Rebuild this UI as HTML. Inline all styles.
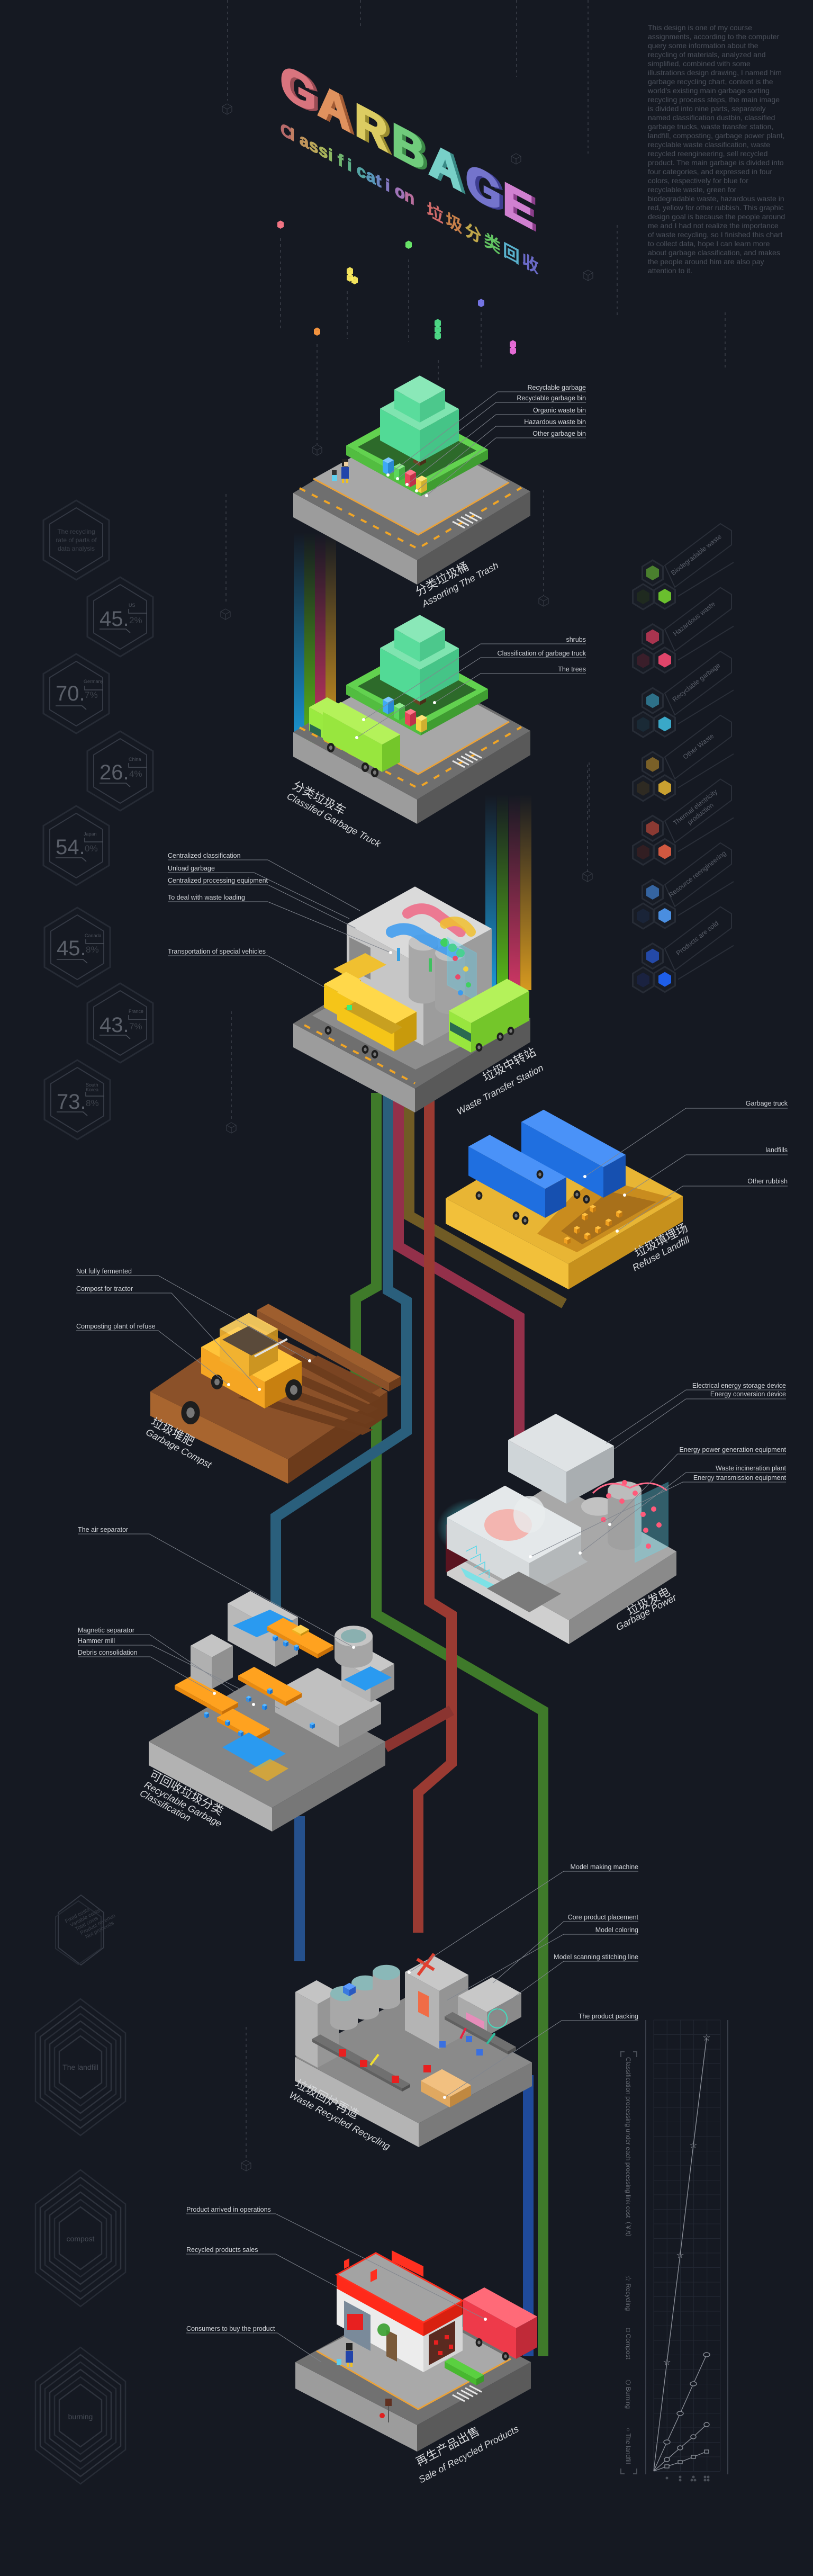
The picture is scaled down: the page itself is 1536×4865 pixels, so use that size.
<!DOCTYPE html>
<html><head><meta charset="utf-8">
<style>
html,body{margin:0;padding:0;background:#151922;}
svg{display:block}
text{font-family:"Liberation Sans","Noto Sans CJK SC",sans-serif}
.cl{font-size:12.5px;fill:#d2d5da}
.ld{fill:none;stroke:#80858e;stroke-width:1}
.sc1{font-size:22px;fill:#d8dadd;font-family:"Liberation Sans","Noto Sans CJK SC",sans-serif}
.sc2{font-size:18px;fill:#d8dadd;font-style:italic}
.dl{stroke:#3c414b;stroke-width:1.5;stroke-dasharray:5 6}
.para{font-size:14px;fill:#4b505b}
.num{font-size:40px;fill:#5a5f69}
.cty{font-size:9px;fill:#4a4f59}
.pct{font-size:17px;fill:#3c414a}
.lg{font-size:12.5px;fill:#5a5f6a}
</style></head>
<body>
<svg id="s" width="1536" height="4865" viewBox="0 0 1536 4865" xmlns="http://www.w3.org/2000/svg">
<defs>
<linearGradient id="gb" x1="0" y1="0" x2="0" y2="1"><stop offset="0" stop-color="#1a9ee0" stop-opacity="0"/><stop offset="1" stop-color="#1a9ee0" stop-opacity="0.95"/></linearGradient>
<linearGradient id="gg" x1="0" y1="0" x2="0" y2="1"><stop offset="0" stop-color="#5cc018" stop-opacity="0"/><stop offset="1" stop-color="#5cc018" stop-opacity="0.95"/></linearGradient>
<linearGradient id="gr" x1="0" y1="0" x2="0" y2="1"><stop offset="0" stop-color="#d83868" stop-opacity="0"/><stop offset="1" stop-color="#d83868" stop-opacity="0.95"/></linearGradient>
<linearGradient id="go" x1="0" y1="0" x2="0" y2="1"><stop offset="0" stop-color="#e0a020" stop-opacity="0"/><stop offset="1" stop-color="#e0a020" stop-opacity="0.95"/></linearGradient>
<radialGradient id="glow"><stop offset="0" stop-color="#4ff4ff" stop-opacity="0.9"/><stop offset="1" stop-color="#4ff4ff" stop-opacity="0"/></radialGradient>
</defs>
<rect width="1536" height="4865" fill="#151922"/>

<g>
<line class="dl" x1="430" y1="0" x2="430" y2="190"/>
<line class="dl" x1="681" y1="0" x2="681" y2="55"/>
<line class="dl" x1="976" y1="0" x2="976" y2="145"/>
<line class="dl" x1="1111" y1="0" x2="1111" y2="290"/>
<line class="dl" x1="530" y1="450" x2="530" y2="620"/>
<line class="dl" x1="656" y1="550" x2="656" y2="640"/>
<line class="dl" x1="772" y1="490" x2="772" y2="645"/>
<line class="dl" x1="909" y1="590" x2="909" y2="700"/>
<line class="dl" x1="1166" y1="425" x2="1166" y2="600"/>
<line class="dl" x1="1370" y1="590" x2="1370" y2="700"/>
<line class="dl" x1="599" y1="650" x2="599" y2="840"/>
<line class="dl" x1="828" y1="680" x2="828" y2="720"/>
<line class="dl" x1="1027" y1="925" x2="1027" y2="1126"/>
<line class="dl" x1="1113" y1="1440" x2="1113" y2="1550"/>
<line class="dl" x1="427" y1="933" x2="427" y2="1140"/>
<line class="dl" x1="437" y1="1910" x2="437" y2="2115"/>
<line class="dl" x1="1110" y1="1444" x2="1110" y2="1647"/>
<line class="dl" x1="465" y1="3828" x2="465" y2="4077"/>
<line class="dl" x1="1110" y1="2160" x2="1110" y2="2220"/>
</g>

<g>
<rect x="555" y="1005" width="20" height="405" fill="url(#gb)"/>
<rect x="575" y="1005" width="20" height="405" fill="url(#gg)"/>
<rect x="595" y="1005" width="20" height="405" fill="url(#gr)"/>
<rect x="615" y="1005" width="20" height="405" fill="url(#go)"/>
<rect x="917" y="1500" width="21" height="370" fill="url(#gb)"/>
<rect x="939" y="1500" width="21" height="370" fill="url(#gg)"/>
<rect x="961" y="1500" width="21" height="370" fill="url(#gr)"/>
<rect x="983" y="1500" width="21" height="370" fill="url(#go)"/>
</g>

<g fill="none" stroke-width="20" stroke-linejoin="miter">
<path d="M773,2064 V2296 L1066,2462" stroke="#7a6326" opacity="0.9"/>
<path d="M711,2064 V2430 L672,2452 V2600 L711,2625 V3049 L1026,3231 V4450" stroke="#3f7a2a"/>
<path d="M733,2064 V2437 L768,2457 V2703 L521,2865 V3050" stroke="#2a5f7c"/>
<path d="M566,3430 V3704" stroke="#25508c"/>
<path d="M998,3919 V4450" stroke="#1f4a9a"/>
<path d="M753,2064 V2354 L981,2487 V2740" stroke="#93304a"/>
<path d="M811,2064 V3024 L853,3050 V3330 L790,3385 V3650" stroke="#9a3a32"/>
<path d="M853,3230 L728,3300" stroke="#8a3430"/>
</g>

<g id="shapes"></g>

<g transform="translate(530,179) skewY(28)" font-family="DejaVu Sans Mono, Liberation Mono, monospace" font-weight="bold" font-size="86" stroke-width="4" stroke-linejoin="miter">
<text x="7" y="0" fill="#9a4c55" stroke="#9a4c55">G</text><text x="0" y="0" fill="#d9747e" stroke="#d9747e">G</text>
<text x="77" y="0" fill="#a05a34" stroke="#a05a34">A</text><text x="70" y="0" fill="#e0925e" stroke="#e0925e">A</text>
<text x="147" y="0" fill="#9a8c30" stroke="#9a8c30">R</text><text x="140" y="0" fill="#dccc62" stroke="#dccc62">R</text>
<text x="217" y="0" fill="#3c8a48" stroke="#3c8a48">B</text><text x="210" y="0" fill="#70cc7c" stroke="#70cc7c">B</text>
<text x="287" y="0" fill="#3a8a86" stroke="#3a8a86">A</text><text x="280" y="0" fill="#78d0c8" stroke="#78d0c8">A</text>
<text x="357" y="0" fill="#3e3e92" stroke="#3e3e92">G</text><text x="350" y="0" fill="#7474cc" stroke="#7474cc">G</text>
<text x="427" y="0" fill="#8a3e8a" stroke="#8a3e8a">E</text><text x="420" y="0" fill="#d080d0" stroke="#d080d0">E</text>
</g>
<g transform="translate(530,253) skewY(28)" font-family="DejaVu Sans Mono, Liberation Mono, monospace" font-weight="bold" font-size="31" stroke-width="1.5">
<text x="0" y="0" fill="#b86a6a" stroke="#b86a6a">C</text><text x="18" y="0" fill="#c07e62" stroke="#c07e62">l</text><text x="36" y="0" fill="#c0945a" stroke="#c0945a">a</text><text x="54" y="0" fill="#bca85a" stroke="#bca85a">s</text><text x="72" y="0" fill="#a8b45a" stroke="#a8b45a">s</text><text x="90" y="0" fill="#8cb862" stroke="#8cb862">i</text><text x="108" y="0" fill="#70b46e" stroke="#70b46e">f</text><text x="126" y="0" fill="#5cae86" stroke="#5cae86">i</text><text x="144" y="0" fill="#54a4a4" stroke="#54a4a4">c</text><text x="162" y="0" fill="#5896b8" stroke="#5896b8">a</text><text x="180" y="0" fill="#6a84c0" stroke="#6a84c0">t</text><text x="198" y="0" fill="#8478c0" stroke="#8478c0">i</text><text x="216" y="0" fill="#a074b8" stroke="#a074b8">o</text><text x="234" y="0" fill="#b86e9e" stroke="#b86e9e">n</text>
</g>
<g transform="translate(806,405) skewY(28)" font-size="32" font-weight="bold" font-family="Noto Sans CJK SC, sans-serif">
<text x="0" y="0" fill="#d06a6a">垃</text><text x="36" y="0" fill="#c8804a">圾</text><text x="72" y="0" fill="#c0a84a">分</text><text x="108" y="0" fill="#62c462">类</text><text x="144" y="0" fill="#58b0cc">回</text><text x="180" y="0" fill="#6a6ac8">收</text>
</g>

<text class="para" x="1224" y="57">
<tspan x="1224" dy="0">This design is one of my course</tspan>
<tspan x="1224" dy="17">assignments, according to the computer</tspan>
<tspan x="1224" dy="17">query some information about the</tspan>
<tspan x="1224" dy="17">recycling of materials, analyzed and</tspan>
<tspan x="1224" dy="17">simplified, combined with some</tspan>
<tspan x="1224" dy="17">illustrations design drawing, I named him</tspan>
<tspan x="1224" dy="17">garbage recycling chart, content is the</tspan>
<tspan x="1224" dy="17">world's existing main garbage sorting</tspan>
<tspan x="1224" dy="17">recycling process steps, the main image</tspan>
<tspan x="1224" dy="17">is divided into nine parts, separately</tspan>
<tspan x="1224" dy="17">named classification dustbin, classified</tspan>
<tspan x="1224" dy="17">garbage trucks, waste transfer station,</tspan>
<tspan x="1224" dy="17">landfill, composting, garbage power plant,</tspan>
<tspan x="1224" dy="17">recyclable waste classification, waste</tspan>
<tspan x="1224" dy="17">recycled reengineering, sell recycled</tspan>
<tspan x="1224" dy="17">product. The main garbage is divided into</tspan>
<tspan x="1224" dy="17">four categories, and expressed in four</tspan>
<tspan x="1224" dy="17">colors, respectively for blue for</tspan>
<tspan x="1224" dy="17">recyclable waste, green for</tspan>
<tspan x="1224" dy="17">biodegradable waste, hazardous waste in</tspan>
<tspan x="1224" dy="17">red, yellow for other rubbish. This graphic</tspan>
<tspan x="1224" dy="17">design goal is because the people around</tspan>
<tspan x="1224" dy="17">me and I had not realize the importance</tspan>
<tspan x="1224" dy="17">of waste recycling, so I finished this chart</tspan>
<tspan x="1224" dy="17">to collect data, hope I can learn more</tspan>
<tspan x="1224" dy="17">about garbage classification, and makes</tspan>
<tspan x="1224" dy="17">the people around him are also pay</tspan>
<tspan x="1224" dy="17">attention to it.</tspan>
</text>

<g text-anchor="middle" font-size="12" fill="#3c414b">
<text x="144" y="1008">The recycling</text><text x="144" y="1024">rate of parts of</text><text x="144" y="1040">data analysis</text>
</g>
<g>
<text class="num" x="188" y="1182">45.</text><text class="cty" x="243" y="1146" font-size="13">US</text><text class="pct" x="244" y="1177">2%</text>
<text class="num" x="105" y="1323">70.</text><text class="cty" x="158" y="1290">Germany</text><text class="pct" x="160" y="1318">7%</text>
<text class="num" x="188" y="1472">26.</text><text class="cty" x="243" y="1437">China</text><text class="pct" x="244" y="1467">4%</text>
<text class="num" x="105" y="1613">54.</text><text class="cty" x="158" y="1578">Japan</text><text class="pct" x="160" y="1608">0%</text>
<text class="num" x="107" y="1804">45.</text><text class="cty" x="160" y="1770">Canada</text><text class="pct" x="162" y="1799">8%</text>
<text class="num" x="188" y="1949">43.</text><text class="cty" x="243" y="1913">France</text><text class="pct" x="244" y="1944">7%</text>
<text class="num" x="107" y="2094">73.</text><text class="cty" x="162" y="2052">South</text><text class="cty" x="162" y="2061">Korea</text><text class="pct" x="162" y="2089">8%</text>
</g>

<g font-size="10" fill="#3c414b" transform="translate(125,3632) rotate(-28)">
<text x="0" y="0">Fixed costs</text><text x="5" y="11">Variable costs</text><text x="10" y="22">Total costs</text><text x="15" y="33">Product revenue</text><text x="20" y="44">Net proceeds</text>
</g>
<g text-anchor="middle" font-size="14" fill="#474c56">
<text x="152" y="3909">The landfill</text>
<text x="152" y="4233">compost</text>
<text x="152" y="4569">burning</text>
</g>

<g class="lg" text-anchor="middle">
<text transform="translate(1318,1051) rotate(-38)">Biodegradable waste</text>
<text transform="translate(1314,1172) rotate(-38)">Hazardous waste</text>
<text transform="translate(1318,1292) rotate(-38)">Recyclable garbage</text>
<text transform="translate(1322,1413) rotate(-38)">Other Waste</text>
<text transform="translate(1316,1528) rotate(-38)">Thermal electricity</text>
<text transform="translate(1326,1540) rotate(-38)">production</text>
<text transform="translate(1320,1654) rotate(-38)">Resource reengineering</text>
<text transform="translate(1320,1775) rotate(-38)">Products are sold</text>
</g>

<g>
<g stroke="#222733" stroke-width="1" id="grid"></g>
<line x1="1220" y1="3815" x2="1220" y2="4673" stroke="#3a3f4a" stroke-width="2"/>
<line x1="1375" y1="3815" x2="1375" y2="4673" stroke="#3a3f4a" stroke-width="2"/>
<g fill="none" stroke="#8a8f98" stroke-width="1.4">
<polyline points="1235,4667 1260,4461 1285,4259 1310,4051 1335,3848"/>
<polyline points="1235,4667 1260,4612 1285,4558 1310,4502 1335,4447"/>
<polyline points="1235,4667 1260,4645 1285,4623 1310,4602 1335,4579"/>
<polyline points="1235,4667 1260,4658 1285,4650 1310,4640 1335,4630"/>
<ellipse cx="1260" cy="4612" rx="6" ry="4" fill="#151922"/><ellipse cx="1285" cy="4558" rx="6" ry="4" fill="#151922"/><ellipse cx="1310" cy="4502" rx="6" ry="4" fill="#151922"/><ellipse cx="1335" cy="4447" rx="6" ry="4" fill="#151922"/>
<ellipse cx="1260" cy="4645" rx="5" ry="4" fill="#151922"/><ellipse cx="1285" cy="4623" rx="5" ry="4" fill="#151922"/><ellipse cx="1310" cy="4602" rx="5" ry="4" fill="#151922"/><ellipse cx="1335" cy="4579" rx="5" ry="4" fill="#151922"/>
<rect x="1256" y="4655" width="8" height="6" fill="#151922"/><rect x="1281" y="4647" width="8" height="6" fill="#151922"/><rect x="1306" y="4637" width="8" height="6" fill="#151922"/><rect x="1331" y="4627" width="8" height="6" fill="#151922"/>
<path d="M1173,3885 V3875 H1180 M1203,3885 V3875 H1196 M1173,4662 V4672 H1180 M1203,4662 V4672 H1196" stroke="#4a4f58" stroke-width="2"/>
</g>
<g font-size="14" fill="#8a8f98" text-anchor="middle">
<text x="1260" y="4466">☆</text><text x="1285" y="4264">☆</text><text x="1310" y="4056">☆</text><text x="1335" y="3853">☆</text>
</g>
<g fill="#4a4f58"><circle cx="1260" cy="4680" r="2.5"/><circle cx="1285" cy="4678" r="2.5"/><circle cx="1285" cy="4684" r="2.5"/><circle cx="1310" cy="4678" r="2.5"/><circle cx="1307" cy="4684" r="2.5"/><circle cx="1313" cy="4684" r="2.5"/><circle cx="1332" cy="4678" r="2.5"/><circle cx="1338" cy="4678" r="2.5"/><circle cx="1332" cy="4684" r="2.5"/><circle cx="1338" cy="4684" r="2.5"/></g>
<g font-size="12" fill="#6a6f78">
<text transform="translate(1183,3885) rotate(90)">Classification processing under each processing link cost（￥/t）</text>
<text transform="translate(1183,4297) rotate(90)">☆ Recycling</text>
<text transform="translate(1183,4397) rotate(90)">□ Compost</text>
<text transform="translate(1183,4494) rotate(90)">⬡ Burning</text>
<text transform="translate(1183,4585) rotate(90)">○ The landfill</text>
</g>
</g>

<g>
<g transform="translate(790,1126) rotate(-28)"><text class="sc1">分类垃圾桶</text><text class="sc2" y="24">Assorting The Trash</text></g>
<g transform="translate(551,1488) rotate(28)"><text class="sc1">分类垃圾车</text><text class="sc2" y="22">Classifed Garbage Truck</text></g>
<g transform="translate(917,2043) rotate(-28)"><text class="sc1">垃圾中转站</text></g>
<g transform="translate(867,2106) rotate(-28)"><text class="sc2">Waste Transfer Station</text></g>
<g transform="translate(1204,2375) rotate(-28)"><text class="sc1">垃圾填埋场</text></g>
<g transform="translate(1199,2401) rotate(-28)"><text class="sc2">Refuse Landfill</text></g>
<g transform="translate(284,2690) rotate(28)"><text class="sc1">垃圾堆肥</text><text class="sc2" y="21">Garbage Compst</text></g>
<g transform="translate(1190,3052) rotate(-28)"><text class="sc1">垃圾发电</text></g>
<g transform="translate(1168,3080) rotate(-28)"><text class="sc2">Garbage Power</text></g>
<g transform="translate(281,3356) rotate(28)"><text class="sc1">可回收垃圾分类</text><text class="sc2" y="21">Recyclable Garbage</text><text class="sc2" y="39">Classification</text></g>
<g transform="translate(556,3940) rotate(28)"><text class="sc1">垃圾回炉再造</text><text class="sc2" y="23">Waste Recycled Recycling</text></g>
<g transform="translate(791,4658) rotate(-28)"><text class="sc1">再生产品出售</text></g>
<g transform="translate(795,4690) rotate(-28)"><text class="sc2">Sale of Recycled Products</text></g>
</g>

<g>
<text class="cl" x="1107" y="736" text-anchor="end">Recyclable garbage</text><polyline class="ld" points="1107,740 940,740 733,897"/><circle cx="733" cy="897" r="3" fill="#fff"/>
<text class="cl" x="1107" y="756" text-anchor="end">Recyclable garbage bin</text><polyline class="ld" points="1107,760 937,760 751,904"/><circle cx="751" cy="904" r="3" fill="#fff"/>
<text class="cl" x="1107" y="779" text-anchor="end">Organic waste bin</text><polyline class="ld" points="1107,783 937,783 769,915"/><circle cx="769" cy="915" r="3" fill="#fff"/>
<text class="cl" x="1107" y="801" text-anchor="end">Hazardous waste bin</text><polyline class="ld" points="1107,805 937,805 787,927"/><circle cx="787" cy="927" r="3" fill="#fff"/>
<text class="cl" x="1107" y="823" text-anchor="end">Other garbage bin</text><polyline class="ld" points="1107,827 937,827 806,936"/><circle cx="806" cy="936" r="3" fill="#fff"/>

<text class="cl" x="1107" y="1212" text-anchor="end">shrubs</text><polyline class="ld" points="1107,1216 908,1216 687,1359"/><circle cx="687" cy="1359" r="3" fill="#fff"/>
<text class="cl" x="1107" y="1238" text-anchor="end">Classification of garbage truck</text><polyline class="ld" points="1107,1242 908,1242 674,1393"/><circle cx="674" cy="1393" r="3" fill="#fff"/>
<text class="cl" x="1107" y="1268" text-anchor="end">The trees</text><polyline class="ld" points="1107,1272 908,1272 821,1327"/><circle cx="821" cy="1327" r="3" fill="#fff"/>

<text class="cl" x="317" y="1620">Centralized classification</text><polyline class="ld" points="317,1624 506,1624 680,1720"/>
<text class="cl" x="317" y="1644">Unload garbage</text><polyline class="ld" points="317,1648 480,1648 660,1735"/>
<text class="cl" x="317" y="1667">Centralized processing equipment</text><polyline class="ld" points="317,1671 506,1671 672,1753"/>
<text class="cl" x="317" y="1699">To deal with waste loading</text><polyline class="ld" points="317,1703 506,1703 738,1799"/><circle cx="738" cy="1799" r="3" fill="#fff"/>
<text class="cl" x="317" y="1801">Transportation of special vehicles</text><polyline class="ld" points="317,1805 506,1805 614,1865"/>

<text class="cl" x="1488" y="2088" text-anchor="end">Garbage truck</text><polyline class="ld" points="1488,2093 1296,2093 1105,2222"/><circle cx="1105" cy="2222" r="3" fill="#fff"/>
<text class="cl" x="1488" y="2176" text-anchor="end">landfills</text><polyline class="ld" points="1488,2181 1296,2181 1180,2257"/><circle cx="1180" cy="2257" r="3" fill="#fff"/>
<text class="cl" x="1488" y="2235" text-anchor="end">Other rubbish</text><polyline class="ld" points="1488,2240 1290,2240 1166,2325"/><circle cx="1166" cy="2325" r="3" fill="#fff"/>

<text class="cl" x="144" y="2405">Not fully fermented</text><polyline class="ld" points="144,2409 299,2409 585,2570"/><circle cx="585" cy="2570" r="3" fill="#fff"/>
<text class="cl" x="144" y="2438">Compost for tractor</text><polyline class="ld" points="144,2442 324,2442 490,2624"/><circle cx="490" cy="2624" r="3" fill="#fff"/>
<text class="cl" x="144" y="2509">Composting plant of refuse</text><polyline class="ld" points="144,2513 299,2513 432,2615"/><circle cx="432" cy="2615" r="3" fill="#fff"/>

<text class="cl" x="1485" y="2621" text-anchor="end">Electrical energy storage device</text><polyline class="ld" points="1485,2625 1296,2625 1145,2726"/>
<text class="cl" x="1485" y="2637" text-anchor="end">Energy conversion device</text><polyline class="ld" points="1485,2642 1296,2642 1161,2736"/>
<text class="cl" x="1485" y="2742" text-anchor="end">Energy power generation equipment</text><polyline class="ld" points="1485,2746 1280,2746 1152,2879"/><circle cx="1152" cy="2879" r="3" fill="#fff"/>
<text class="cl" x="1485" y="2777" text-anchor="end">Waste incineration plant</text><polyline class="ld" points="1485,2781 1296,2781 1096,2933"/><circle cx="1096" cy="2933" r="3" fill="#fff"/>
<text class="cl" x="1485" y="2795" text-anchor="end">Energy transmission equipment</text><polyline class="ld" points="1485,2799 1290,2799 1002,2940"/><circle cx="1002" cy="2940" r="3" fill="#fff"/>

<text class="cl" x="147" y="2893">The air separator</text><polyline class="ld" points="147,2897 282,2897 668,3111"/><circle cx="668" cy="3111" r="3" fill="#fff"/>
<text class="cl" x="147" y="3083">Magnetic separator</text><polyline class="ld" points="147,3087 282,3087 479,3219"/><circle cx="479" cy="3219" r="3" fill="#fff"/>
<text class="cl" x="147" y="3103">Hammer mill</text><polyline class="ld" points="147,3107 286,3107 528,3227"/>
<text class="cl" x="147" y="3125">Debris consolidation</text><polyline class="ld" points="147,3129 284,3129 405,3198"/><circle cx="405" cy="3198" r="3" fill="#fff"/>

<text class="cl" x="1206" y="3530" text-anchor="end">Model making machine</text><polyline class="ld" points="1206,3534 1065,3534 773,3725"/><circle cx="773" cy="3725" r="3" fill="#fff"/>
<text class="cl" x="1206" y="3625" text-anchor="end">Core product placement</text><polyline class="ld" points="1206,3629 1065,3629 931,3745"/>
<text class="cl" x="1206" y="3649" text-anchor="end">Model coloring</text><polyline class="ld" points="1206,3653 1065,3653 844,3778"/>
<text class="cl" x="1206" y="3700" text-anchor="end">Model scanning stitching line</text><polyline class="ld" points="1206,3704 1065,3704 928,3803"/>
<text class="cl" x="1206" y="3812" text-anchor="end">The product packing</text><polyline class="ld" points="1206,3816 1061,3816 840,3961"/><circle cx="840" cy="3961" r="3" fill="#fff"/>

<text class="cl" x="352" y="4177">Product arrived in operations</text><polyline class="ld" points="352,4181 521,4181 917,4380"/><circle cx="917" cy="4380" r="3" fill="#fff"/>
<text class="cl" x="352" y="4253">Recycled products sales</text><polyline class="ld" points="352,4257 521,4257 639,4320"/>
<text class="cl" x="352" y="4402">Consumers to buy the product</text><polyline class="ld" points="352,4406 524,4406 607,4461"/>
</g>
</svg>
<script>
(function(){
var NS='http://www.w3.org/2000/svg',svg=document.getElementById('s'),G=document.getElementById('shapes');
var target=G;
function el(t,a,par){var e=document.createElementNS(NS,t);for(var k in a)e.setAttribute(k,a[k]);(par||target).appendChild(e);return e;}
function pts(a){return a.map(function(p){return p[0].toFixed(1)+','+p[1].toFixed(1)}).join(' ');}
function P(a,f,ex){var o={points:pts(a),fill:f};if(ex)for(var k in ex)o[k]=ex[k];return el('polygon',o);}
function plat(T,R,B,L,h,ct,cl,cr){P([L,B,[B[0],B[1]+h],[L[0],L[1]+h]],cl);P([B,R,[R[0],R[1]+h],[B[0],B[1]+h]],cr);P([T,R,B,L],ct);}
function bx(fx,fy,U,V,H,ct,cl,cr,ex){var k=.55,p2=[fx,fy],p3=[fx-U,fy-k*U],p1=[fx+V,fy-k*V],p0=[fx-U+V,fy-k*(U+V)];function u(p){return[p[0],p[1]-H]}
P([u(p3),u(p2),p2,p3],cl,ex);P([u(p2),u(p1),p1,p2],cr,ex);P([u(p0),u(p1),u(p2),u(p3)],ct,ex);}
function cyl(cx,by,rx,H,c1,ct){var ry=rx*.55;el('path',{d:'M'+(cx-rx)+','+(by-H)+' L'+(cx-rx)+','+by+' A'+rx+','+ry+' 0 0 0 '+(cx+rx)+','+by+' L'+(cx+rx)+','+(by-H)+' Z',fill:c1});el('ellipse',{cx:cx,cy:by-H,rx:rx,ry:ry,fill:ct});}
function ln(x1,y1,x2,y2,c,w,ex){var o={x1:x1,y1:y1,x2:x2,y2:y2,stroke:c,'stroke-width':w||1};if(ex)for(var k in ex)o[k]=ex[k];el('line',o);}
function wh(x,y,r){el('ellipse',{cx:x,cy:y,rx:r*.8,ry:r,fill:'#1e1e1e'});el('ellipse',{cx:x,cy:y,rx:r*.35,ry:r*.45,fill:'#777'});}
function hex(cx,cy,hw,hh,f,s,sw){return P([[cx,cy-hh],[cx+hw,cy-hh/2],[cx+hw,cy+hh/2],[cx,cy+hh],[cx-hw,cy+hh/2],[cx-hw,cy-hh/2]],f,s?{stroke:s,'stroke-width':sw||1.5}:null);}

var back=document.createElementNS(NS,'g');svg.insertBefore(back,svg.children[2]);target=back;
var hc=[[144,1020],[227,1165],[144,1310],[227,1456],[144,1597],[146,1789],[227,1932],[146,2077]];
hc.forEach(function(c){hex(c[0],c[1],62,75,'none','#262b35',3);hex(c[0],c[1],50,61,'none','#343944',2);});
hc.slice(1).forEach(function(c){var x=c[0]-39,y=c[1]+17;
el('polyline',{points:(x)+','+(y+6)+' '+(x+50)+','+(y+6)+' '+(x+58)+','+(y+13),fill:'none',stroke:'#4a4f59','stroke-width':1.5});
el('polyline',{points:(x+55)+','+(y-32)+' '+(x+55)+','+(y-24)+' '+(x+90)+','+(y-24),fill:'none',stroke:'#4a4f59','stroke-width':1.5});});
hex(153,3645,43,66,'none','#343944',2);hex(148,3650,43,60,'none','#262b35',2);
[[152,3904],[152,4227],[152,4562]].forEach(function(c){for(var i=0;i<6;i++){hex(c[0],c[1],85-9*i,129-14*i,'none',i%2?'#2e333d':'#272c36',2.5);}});
[[429,206],[975,300],[1111,520],[426,1160],[1110,1655],[437,2130],[1112,2235],[465,4090],[1027,1135],[599,850]].forEach(function(c){hex(c[0],c[1],9,10,'none','#3a3f49',1);el('polyline',{points:(c[0]-9)+','+(c[1]-5)+' '+c[0]+','+c[1]+' '+(c[0]+9)+','+(c[1]-5),fill:'none',stroke:'#3a3f49','stroke-width':1});ln(c[0],c[1],c[0],c[1]+10,'#3a3f49',1);});
var lc=[['#4a7f2e','#1f2a1f','#6abf2e'],['#a8344f','#3a1e2a','#e0456a'],['#2d7088','#1a2a36','#3aa8c8'],['#7a6028','#2e2a22','#c9a030'],['#8a3a33','#321e22','#d05840'],['#3564a0','#1a2438','#4a8ee0'],['#2449a8','#1a2240','#1e5ee8']];
lc.forEach(function(c,i){var y=1082+120.6*i;
el('polygon',{points:pts([[1256,y-14],[1361,y-93],[1382,y-80],[1382,y-53],[1275,y+27]]),fill:'none',stroke:'#2a2f39','stroke-width':2});
ln(1281,y+44,1386,y-20,'#2a2f39',2);
[[1233,y,0],[1215,y+45,1],[1256,y+44,2]].forEach(function(h){hex(h[0],h[1],19.5,24,'#181c25','#272c36',3);hex(h[0],h[1],12,14,c[h[2]]);});});
var gr=document.getElementById('grid');
for(var x=1235;x<=1362;x+=25.2)el('line',{x1:x,y1:3815,x2:x,y2:4667},gr);
for(var y=3815;y<=4668;y+=27.5)el('line',{x1:1235,y1:y,x2:1361,y2:y},gr);
target=back;
[[530,432,'#ff7a8a'],[772,470,'#6ef06e'],[661,520,'#ffee60'],[661,532,'#ffee60'],[670,537,'#ffee60'],[599,634,'#ff9a40'],[827,618,'#50e08a'],[827,630,'#50e08a'],[827,642,'#50e08a'],[909,580,'#7a7af0'],[969,658,'#f070e0'],[969,670,'#f070e0']].forEach(function(c){bx(c[0],c[1],6,6,9,c[2],c[2],c[2],{opacity:'.95'});});

target=G;
function garden(dy,truck,person){
plat([768,801+dy],[1002,928+dy],[788,1058+dy],[554,931+dy],46,'#6f6f6f','#9c9c9c','#595959');
P([[768,806+dy],[962,911+dy],[790,1010+dy],[592,904+dy]],'#a7a7a7');
el('polyline',{points:pts([[592,904+dy],[790,1010+dy],[962,911+dy]]),fill:'none',stroke:'#e9a23b','stroke-width':3});
el('polyline',{points:pts([[566,922+dy],[789,1036+dy],[985,921+dy]]),fill:'none',stroke:'#f0a526','stroke-width':4,'stroke-dasharray':'12 14'});
for(var i=0;i<5;i++)ln(855+i*8,985+dy-i*4.4,878+i*8,997+dy-i*4.4,'#e6e6e6',3);
bx(795,937+dy,141,127,18,'#62d24f','#52bd40','#3f9d31');
P([[781,787+dy],[900,851+dy],[795,906+dy],[676,844+dy]],'#2d6a2a');
bx(793,880+dy,12,12,25,'#5a3a20','#6b4426','#4a2e18');
bx(793,873+dy,75,74,60,'#7fe4b0','#52da96','#45c487');
bx(793,798+dy,48,48,36,'#8ae8b8','#5adc9c','#4cc88c');
var bc=[['#7cc8ff','#3fa9f5','#2a88d0'],['#8ee88e','#5cd65c','#44b044'],['#ff7a8a','#e8455a','#c0304a'],['#ffe37a','#f5d442','#d0b030']];
for(var j=0;j<4;j++)bx(733+j*21,897+j*11.5+dy,10,11,22,bc[j][0],bc[j][1],bc[j][2]);
if(person){el('rect',{x:645,y:882+dy,width:14,height:22,fill:'#2244aa'});el('rect',{x:646,y:867+dy,width:12,height:14,fill:'#222'});el('rect',{x:650,y:872+dy,width:8,height:8,fill:'#f0d0a0'});el('rect',{x:646,y:904+dy,width:4,height:8,fill:'#f0c020'});el('rect',{x:654,y:904+dy,width:4,height:8,fill:'#f0c020'});
el('rect',{x:627,y:896+dy,width:10,height:12,fill:'#60d0f0'});el('rect',{x:627,y:888+dy,width:9,height:9,fill:'#333'});}
if(truck){bx(612,1395,28,34,44,'#b4f25a','#9aea40','#78c82e');bx(722,1458,112,34,52,'#b4f25a','#98e63e','#74c62a');
P([[585,1367],[606,1378],[606,1392],[585,1381]],'#2a6a50');wh(625,1412,9);wh(690,1449,9);wh(708,1459,9);}
}
garden(0,false,true);garden(452,true,false);

plat([772,1800],[1002,1923],[784,2056],[554,1933],45,'#6f6f6f','#9c9c9c','#595959');
P([[772,1815],[975,1923],[785,2020],[590,1918]],'#8d8d8d');
el('polyline',{points:'575,1936 784,2046',fill:'none',stroke:'#f0a526','stroke-width':4,'stroke-dasharray':'12 14'});
bx(800,1975,145,129,150,'#dadada','#c6c6c6','#9c9c9c');
P([[660,1770],[700,1790],[700,1850],[660,1830]],'#8a8a8a');
P([[690,1860],[770,1905],[770,1935],[690,1890]],'#5a7a86');
cyl(800,1880,28,100,'#a8a8a8','#c4c4c4');cyl(850,1900,28,100,'#a2a2a2','#c0c0c0');
el('rect',{x:810,y:1810,width:6,height:25,fill:'#40c060'});el('rect',{x:750,y:1790,width:6,height:25,fill:'#3aa0e0'});
el('path',{d:'M740,1760 Q770,1745 800,1770 L860,1800',stroke:'#3a9af0','stroke-width':22,fill:'none','stroke-linecap':'round',opacity:.85});
el('path',{d:'M770,1725 Q800,1705 830,1730 L870,1760',stroke:'#f06080','stroke-width':20,fill:'none','stroke-linecap':'round',opacity:.8});
el('path',{d:'M840,1745 Q870,1730 890,1760',stroke:'#f0c030','stroke-width':18,fill:'none','stroke-linecap':'round',opacity:.85});
[[840,1780],[855,1790],[870,1800]].forEach(function(c){el('circle',{cx:c[0],cy:c[1],r:8,fill:'#40d060'});});
P([[845,1770],[900,1800],[900,1890],[845,1860]],'#5ad0f0',{opacity:.35,stroke:'#5ae0ff','stroke-width':1.5});
[[860,1810,'#e84a6a'],[880,1830,'#f0d040'],[865,1845,'#e84a6a'],[885,1860,'#40d060'],[870,1875,'#3a9af0']].forEach(function(c){el('circle',{cx:c[0],cy:c[1],r:5,fill:c[2]});});
P([[630,1830],[690,1800],[730,1822],[670,1852]],'#f0c030');
bx(640,1918,28,42,44,'#ffd84a','#f5c518','#c89a0c');
bx(745,1986,108,42,52,'#ffd84a','#f5c518','#c89a0c');
P([[650,1905],[740,1953],[760,1940],[670,1892]],'#c8a020');
el('rect',{x:655,y:1898,width:10,height:10,fill:'#3af07a'});
wh(620,1946,8);wh(690,1982,8);wh(708,1991,8);
bx(890,1988,42,110,56,'#b4f25a','#98e63e','#74c62a');
P([[850,1930],[890,1952],[890,1968],[850,1946]],'#2a6a50');
wh(905,1978,8);wh(945,1958,8);wh(965,1947,8);

plat([1058,2135],[1290,2259],[1074,2387],[842,2263],48,'#e8b534','#f2c03a','#c6901c');
P([[1130,2225],[1270,2262],[1090,2365],[1015,2330],[1080,2260]],'#c98c1e');
P([[1150,2250],[1240,2270],[1100,2350],[1060,2325]],'#a8701a');
[[1090,2330],[1110,2342],[1130,2330],[1150,2316],[1072,2350],[1105,2305],[1170,2300],[1120,2290]].forEach(function(c){bx(c[0],c[1],6,6,8,'#ffc040','#f0a020','#c07810');});
bx(1140,2262,155,42,58,'#4a92f8','#1f6fe0','#1650b0');
bx(1030,2300,145,40,55,'#4a92f8','#1f6fe0','#1650b0');
wh(905,2258,8);wh(975,2296,8);wh(992,2305,8);wh(1020,2218,8);wh(1090,2256,8);wh(1108,2265,8);

plat([472,2500],[732,2628],[544,2756],[284,2628],46,'#8b5129','#a8652f','#6c3b1b');
for(var i=0;i<4;i++){P([[560+i*-30,2555+i*25],[720-i*5,2640+i*20],[700-i*5,2650+i*20],[540+i*-30,2565+i*25]],'#6e3d1d');}
bx(735,2628,250,22,16,'#9e5e2e','#8b5129','#6a3a1a');
P([[600,2560],[720,2620],[700,2632],[585,2572]],'#7a4422');
bx(500,2660,120,70,50,'#ffc43a','#f5a623','#c88010');
bx(470,2600,55,55,60,'#ffd060','#f0b030','#c89020',{opacity:.92});
P([[420,2530],[470,2504],[525,2535],[475,2560]],'#5a4a3a');
wh(360,2668,22);wh(555,2625,20);wh(410,2610,14);
el('rect',{x:480,y:2560,width:70,height:4,fill:'#e0e0e0',transform:'rotate(-28 480 2560)'});

plat([1047,2800],[1278,2930],[1075,3060],[844,2930],45,'#a8a8a8','#cfcfcf','#8a8a8a');
P([[842,2880],[960,2815],[960,2905],[842,2970]],'#5a1420');
el('ellipse',{cx:895,cy:2885,rx:70,ry:55,fill:'url(#glow)'});
bx(1000,3010,156,110,58,'#e4e8ea','#d6dadc','#b4b8ba');
P([[870,2960],[990,3022],[1000,3040],[880,2978]],'#5ae8f0',{opacity:.7});
P([[920,3000],[1000,3045],[1060,3010],[980,2968]],'#7a7a7a');
bx(1070,2840,110,90,60,'#dfe3e5','#cfd5d8','#a9aeb1');
el('ellipse',{cx:960,cy:2880,rx:45,ry:30,fill:'#ff8a80',opacity:.55});
el('ellipse',{cx:1000,cy:2860,rx:30,ry:35,fill:'#e8ecee',opacity:.8});
cyl(1130,2935,32,90,'#a8a8a8','#c2c2c2');cyl(1180,2910,32,95,'#a0a0a0','#bcbcbc');
P([[1200,2830],[1262,2800],[1262,2920],[1200,2950]],'#6ae0f0',{opacity:.35,stroke:'#5ae8ff','stroke-width':2});
[[1150,2825],[1175,2835],[1200,2820],[1215,2860],[1235,2850],[1220,2890],[1245,2880],[1225,2920],[1140,2870],[1180,2800]].forEach(function(c){el('circle',{cx:c[0],cy:c[1],r:5,fill:'#ff5a7a'});});
el('path',{d:'M1120,2820 Q1150,2790 1190,2810 Q1230,2790 1260,2815',fill:'none',stroke:'#ff6a8a','stroke-width':3});
for(var i=0;i<4;i++)el('polyline',{points:pts([[880+i*8,2930+i*15],[900+i*8,2920+i*15],[900+i*8,2935+i*15]]),fill:'none',stroke:'#5ad8e8','stroke-width':1.5});

plat([495,3164],[728,3289],[514,3414],[281,3289],45,'#858585','#b2b2b2','#777777');
bx(520,3148,90,43,70,'#c8c8c8','#b8b8b8','#999999');
P([[440,3070],[510,3040],[555,3062],[485,3092]],'#2a9af0');
bx(640,3300,120,80,40,'#c0c0c0','#b0b0b0','#909090');
bx(700,3215,55,45,48,'#c8c8c8','#b5b5b5','#959595');
P([[650,3172],[700,3147],[740,3168],[690,3193]],'#2a9af0');
cyl(668,3130,36,40,'#a5a5a5','#c5c5c5');el('ellipse',{cx:668,cy:3090,rx:24,ry:13,fill:'#8ab0b0'});
bx(600,3132,95,30,8,'#ffa21f','#e88a10','#c87008');
bx(540,3222,90,30,8,'#ffa21f','#e88a10','#c87008');
bx(420,3240,90,30,8,'#ffa21f','#e88a10','#c87008');
bx(480,3290,70,30,8,'#ffa21f','#e88a10','#c87008');
bx(400,3190,40,40,60,'#c4c4c4','#b0b0b0','#909090');
P([[420,3300],[470,3272],[540,3312],[490,3340]],'#2a9af0');
[[520,3100],[540,3110],[560,3118],[470,3215],[500,3230],[390,3245],[430,3260],[590,3265],[510,3200],[455,3280]].forEach(function(c){bx(c[0],c[1],5,5,7,'#5ab8ff','#2a90f0','#1a70c8');});
bx(568,3090,16,16,4,'#ffd050','#f0b020','#c89010');
P([[470,3345],[510,3322],[545,3340],[505,3364]],'#f0b020',{opacity:.7});

plat([771,3770],[1005,3895],[791,4010],[557,3885],45,'#8a8a8a','#b4b4b4','#7a7a7a');
bx(600,3905,42,40,120,'#c4c4c4','#b6b6b6','#969696');
cyl(650,3820,26,55,'#a8a8a8','#8ab8b8');cyl(690,3800,26,55,'#a8a8a8','#8ab8b8');cyl(730,3780,26,55,'#a8a8a8','#8ab8b8');
bx(830,3870,65,55,110,'#c8c8c8','#b4b4b4','#949494');
el('path',{d:'M788,3700 L820,3720 M820,3690 L790,3730',stroke:'#e04030','stroke-width':6});
P([[790,3760],[810,3770],[810,3810],[790,3800]],'#ff5a2a',{opacity:.8});
bx(920,3845,55,65,45,'#c8c8c8','#aaaaaa','#8a8a8a');
P([[880,3800],[915,3818],[915,3835],[880,3817]],'#ff80c0',{opacity:.7});
bx(760,3950,170,15,6,'#707070','#606060','#505050');
bx(960,3880,120,15,6,'#707070','#606060','#505050');
[[680,3890],[740,3920],[640,3870],[800,3900]].forEach(function(c){el('rect',{x:c[0],y:c[1],width:14,height:14,fill:'#e82020'});});
[[830,3855],[880,3845],[900,3870]].forEach(function(c){el('rect',{x:c[0],y:c[1],width:12,height:12,fill:'#3a70e0'});});
el('circle',{cx:940,cy:3812,r:18,fill:'none',stroke:'#40e0c0','stroke-width':2});
ln(870,3850,880,3830,'#e82040',4);ln(920,3860,935,3840,'#30c0a0',4);ln(700,3900,715,3880,'#f0e030',4);
bx(850,3980,55,40,20,'#f2c080','#e0a860','#c08840');
bx(660,3770,12,12,12,'#5a9aff','#3a7ae0','#2a5ac0');

plat([773,4342],[1003,4461],[788,4580],[558,4461],50,'#717171','#9c9c9c','#5a5a5a');
P([[773,4350],[965,4455],[790,4550],[598,4440]],'#a9a9a9');
el('polyline',{points:'598,4440 790,4550 965,4455',fill:'none',stroke:'#e9a23b','stroke-width':3});
for(var i=0;i<5;i++)ln(855+i*8,4523-i*4.4,878+i*8,4535-i*4.4,'#e6e6e6',3);
bx(975,4455,100,40,58,'#ff6a78','#ee3a4a','#c02a38');
wh(905,4424,8);wh(955,4450,8);
bx(800,4480,164,74,94,'#9d9d9d','#ececec','#d6d6d6');
P([[636,4296],[800,4386],[800,4412],[636,4322]],'#ff2a1a');
P([[800,4386],[874,4345],[874,4371],[800,4412]],'#d82010');
P([[636,4296],[710,4255],[874,4345],[800,4386]],'#a3a3a3',{stroke:'#ff3020','stroke-width':3});
P([[650,4285],[660,4280],[660,4265],[650,4270]],'#ff3020');P([[700,4310],[712,4304],[712,4285],[700,4291]],'#ff3020');
P([[740,4250],[800,4280],[800,4300],[740,4270]],'#ff3020');
P([[650,4345],[700,4372],[700,4440],[650,4413]],'#7a8a9a');
el('rect',{x:656,y:4370,width:30,height:30,fill:'#e82020'});
P([[810,4410],[860,4383],[860,4440],[810,4467]],'#5a2a20');
[[820,4420],[840,4410],[828,4440],[848,4428]].forEach(function(c){el('rect',{x:c[0],y:c[1],width:8,height:8,fill:'#e82020'});});
P([[730,4400],[750,4410],[750,4460],[730,4450]],'#7a5a3a');
el('circle',{cx:725,cy:4400,r:12,fill:'#3aa030',opacity:.9});
bx(900,4505,60,14,12,'#5ad040','#48b830','#3a9a28');
el('rect',{x:653,y:4440,width:14,height:22,fill:'#2244aa'});el('rect',{x:654,y:4425,width:12,height:14,fill:'#222'});el('rect',{x:655,y:4462,width:4,height:8,fill:'#f0c020'});el('rect',{x:662,y:4462,width:4,height:8,fill:'#f0c020'});
el('rect',{x:636,y:4455,width:9,height:12,fill:'#60d0f0'});
el('rect',{x:728,y:4530,width:12,height:14,fill:'#603020'});ln(734,4544,734,4575,'#555',2);
el('circle',{cx:722,cy:4562,r:5,fill:'#e02020'});
})();
</script>
</body></html>
